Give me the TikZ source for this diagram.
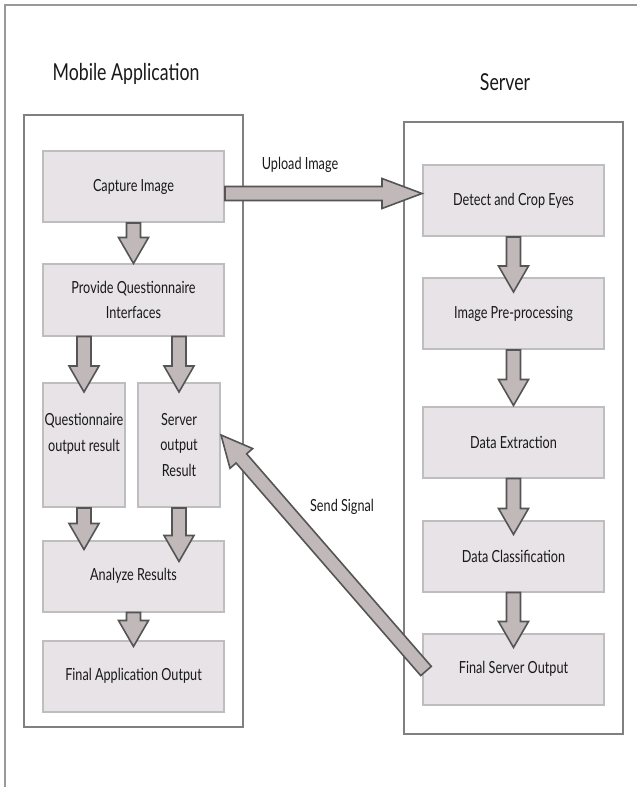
\documentclass[tikz,border=0pt]{standalone}
\usepackage{fontspec}
\setmainfont{Lato}[FakeStretch=0.76]
\usepackage{tikz}
\usetikzlibrary{calc}

\definecolor{boxfill}{RGB}{231,227,231}
\definecolor{boxline}{RGB}{190,190,190}
\definecolor{arrfill}{RGB}{193,185,185}
\definecolor{arrline}{RGB}{85,85,85}
\definecolor{frameline}{RGB}{128,128,128}

% #1 head length, #2 from, #3 to, #4 overlap into target (px)
\newcommand{\fatarrow}[4][26]{%
\draw[fatarrow] let \p1=($(#3)-(#2)$), \n1={atan2(\y1,\x1)}, \n2={veclen(\x1,\y1)+#4*0.75}, \n3={\n2-#1*0.75} in
 ($(#2)+(\n1+90:5.25pt)$) -- ($(#2)+(\n1:\n3)+(\n1+90:5.25pt)$) -- ($(#2)+(\n1:\n3)+(\n1+90:11.25pt)$)
 -- ($(#2)+(\n1:\n2)$) -- ($(#2)+(\n1:\n3)+(\n1-90:11.25pt)$) -- ($(#2)+(\n1:\n3)+(\n1-90:5.25pt)$)
 -- ($(#2)+(\n1-90:5.25pt)$) -- cycle;}

\begin{document}
\begin{tikzpicture}[x=0.75pt,y=-0.75pt,
  box/.style={draw=boxline,fill=boxfill,line width=1.5pt,minimum width=135.75pt,minimum height=53.25pt,
    align=center,inner sep=0pt,font=\fontsize{12.5}{19}\selectfont,text=black!90},
  tallbox/.style={box,minimum width=61.5pt,minimum height=93pt},
  frame/.style={draw=frameline,line width=1.5pt},
  fatarrow/.style={draw=arrline,fill=arrfill,line width=1.2pt,line join=miter},
  title/.style={font=\fontsize{17.5}{20}\selectfont,text=black!90},
  lbl/.style={font=\fontsize{12.5}{15}\selectfont,text=black!90}]
\useasboundingbox (0,0) rectangle (636,787);
\draw[draw=frameline!80,line width=1.5pt] (650,5) -- (5,5) -- (5,800);

\node[title] (mobtitle) at (126,74) {Mobile Application};
\node[title] (srvtitle) at (505,82) {Server};
\draw[frame] (24,115) rectangle (243,727);
\draw[frame] (404,122) rectangle (623,734);

\node[box] (cap) at (133.5,186.5) {Capture Image};
\node[box] (pqi) at (133.5,300) {Provide Questionnaire\\Interfaces};
\node[tallbox] (qout) at (84,445) {Questionnaire\\output result\\\phantom{x}};
\node[tallbox] (sout) at (179,445) {Server\\output\\Result};
\node[box] (ana) at (133.5,576) {Analyze Results};
\node[box] (fin) at (133.5,676) {Final Application Output};

\node[box] (det) at (513.5,200.5) {Detect and Crop Eyes};
\node[box] (imp) at (513.5,313.5) {Image Pre-processing};
\node[box] (dex) at (513.5,442) {Data Extraction};
\node[box] (dcl) at (513.5,556) {Data Classification};
\node[box] (fso) at (513.5,669) {Final Server Output};

\fatarrow{cap.south}{pqi.north}{0}
\fatarrow{pqi.south -| qout.north}{qout.north}{10}
\fatarrow{pqi.south -| sout.north}{sout.north}{10}
\fatarrow{qout.south}{qout.south |- ana.north}{10}
\fatarrow{sout.south}{sout.south |- ana.north}{22}
\fatarrow{ana.south}{fin.north}{7}
\foreach \a/\b/\o in {det/imp/15,imp/dex/0,dex/dcl/15,dcl/fso/15}
  \fatarrow{\a.south}{\b.north}{\o};

\coordinate (upA) at ($(cap.east)+(0,7)$);
\coordinate (upB) at (upA -| det.west);
\fatarrow[40]{upA}{upB}{0}
\coordinate (sgA) at ($(fso.west)+(4,2)$);
\coordinate (sgB) at ($(sout.east)+(0,-10)$);
\fatarrow[31]{sgA}{sgB}{0}

\node[lbl] (uplbl) at (300,165) {Upload Image};
\node[lbl] (sglbl) at (342,507) {Send Signal};
\end{tikzpicture}
\end{document}
